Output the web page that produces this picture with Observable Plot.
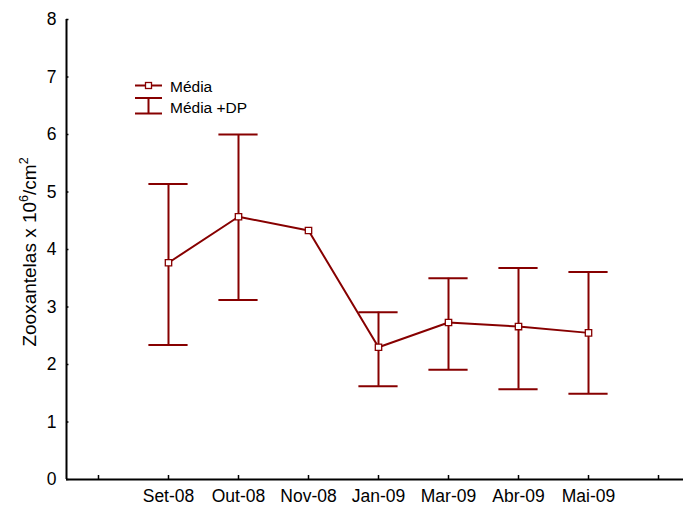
<!DOCTYPE html>
<html>
<head>
<meta charset="utf-8">
<script src="https://cdn.jsdelivr.net/npm/d3@7"></script>
<script src="https://cdn.jsdelivr.net/npm/@observablehq/plot@0.6"></script>
<style>
  html, body { margin: 0; padding: 0; background: #fff; }
  #wrap { position: relative; width: 683px; height: 509px; font-family: "Liberation Sans", Arial, sans-serif; }
  #legend { position: absolute; left: 0; top: 0; pointer-events: none; }
</style>
</head>
<body>
<div id="wrap"></div>
<script>
// Data
const months = ["Set-08", "Out-08", "Nov-08", "Jan-09", "Mar-09", "Abr-09", "Mai-09"];
const means  = [3.77, 4.57, 4.33, 2.30, 2.73, 2.66, 2.55];
const upper  = [5.14, 6.00, null, 2.91, 3.50, 3.68, 3.61];
const lower  = [2.34, 3.12, null, 1.62, 1.91, 1.57, 1.49];
const xTickLabels = ["", "Set-08", "Out-08", "Nov-08", "Jan-09", "Mar-09", "Abr-09", "Mai-09", ""];
const yTicks = [0, 1, 2, 3, 4, 5, 6, 7, 8];
const yTitleParts = [["Zooxantelas x 10", false], ["6", true], ["/cm", false], ["2", true]];
const legendLabels = ["Média", "Média +DP"];

const color = "#870000";
const fontFam = "Liberation Sans, Arial, sans-serif";
const rows = months.map((m, i) => ({month: m, idx: i + 1, mean: means[i], hi: upper[i], lo: lower[i]}));
const bars = rows.filter(d => d.hi != null);
const xTickIdx = xTickLabels.map((_, i) => i);
const xDomain = [-0.457, 8.357];
const capHalf = 0.28;

const chart = Plot.plot({
  width: 683,
  height: 509,
  marginLeft: 66,
  marginRight: 0,
  marginTop: 19,
  marginBottom: 30,
  style: {fontFamily: fontFam, background: "white", color: "#000"},
  x: {type: "linear", domain: xDomain},
  y: {domain: [0, 8]},
  marks: [
    Plot.axisX({ticks: xTickIdx, tickFormat: i => xTickLabels[i], tickSize: 0, tickPadding: 10, fontSize: 17.5, label: null}),
    Plot.axisY({ticks: yTicks, tickSize: 0, tickPadding: 10, fontSize: 17.5, label: null}),
    // inward tick marks
    Plot.ruleX(xTickIdx, {x: d => d, y1: 0, y2: 0.07, stroke: "#000", strokeWidth: 1.5}),
    Plot.ruleY(yTicks, {y: d => d, x1: xDomain[0], x2: xDomain[0] + 0.035, stroke: "#000", strokeWidth: 1.5}),
    // axis lines
    Plot.ruleY([0], {stroke: "#000", strokeWidth: 2}),
    Plot.ruleX([xDomain[0]], {stroke: "#000", strokeWidth: 2}),
    // error bars
    Plot.ruleX(bars, {x: "idx", y1: "lo", y2: "hi", stroke: color, strokeWidth: 2}),
    Plot.ruleY(bars, {y: "hi", x1: d => d.idx - capHalf, x2: d => d.idx + capHalf, stroke: color, strokeWidth: 2}),
    Plot.ruleY(bars, {y: "lo", x1: d => d.idx - capHalf, x2: d => d.idx + capHalf, stroke: color, strokeWidth: 2}),
    // mean line
    Plot.line(rows, {x: "idx", y: "mean", stroke: color, strokeWidth: 2}),
    Plot.dot(rows, {x: "idx", y: "mean", symbol: "square", r: 3.6, fill: "white", stroke: color, strokeWidth: 1.3})
  ]
});

const wrap = document.getElementById("wrap");
wrap.appendChild(chart);

// Overlay: legend and y title
const ns = "http://www.w3.org/2000/svg";
const lg = document.createElementNS(ns, "svg");
lg.setAttribute("id", "legend");
lg.setAttribute("width", 683);
lg.setAttribute("height", 509);
function el(parent, tag, attrs, text) {
  const e = document.createElementNS(ns, tag);
  for (const k in attrs) e.setAttribute(k, attrs[k]);
  if (text != null) e.textContent = text;
  parent.appendChild(e);
  return e;
}
el(lg, "line", {x1: 135, x2: 162, y1: 85.5, y2: 85.5, stroke: color, "stroke-width": 2});
el(lg, "rect", {x: 145.5, y: 82.5, width: 6, height: 6, fill: "white", stroke: color, "stroke-width": 1.3});
el(lg, "line", {x1: 135, x2: 162, y1: 98, y2: 98, stroke: color, "stroke-width": 2});
el(lg, "line", {x1: 135, x2: 162, y1: 113.5, y2: 113.5, stroke: color, "stroke-width": 2});
el(lg, "line", {x1: 148.5, x2: 148.5, y1: 98, y2: 113.5, stroke: color, "stroke-width": 2});
el(lg, "text", {x: 170, y: 91.5, "font-size": 15.5, fill: "#000", "font-family": fontFam}, legendLabels[0]);
el(lg, "text", {x: 170, y: 112.5, "font-size": 15.5, fill: "#000", "font-family": fontFam}, legendLabels[1]);

const t = el(lg, "text", {transform: "translate(36,252) rotate(-90)", "text-anchor": "middle", "font-size": 19, fill: "#000", "font-family": fontFam});
yTitleParts.forEach(([s, sup], i) => {
  el(t, "tspan", sup ? {"font-size": 12.5, dy: -8} : {"font-size": 19, dy: i > 0 ? 8 : 0}, s);
});
wrap.appendChild(lg);
</script>
</body>
</html>
